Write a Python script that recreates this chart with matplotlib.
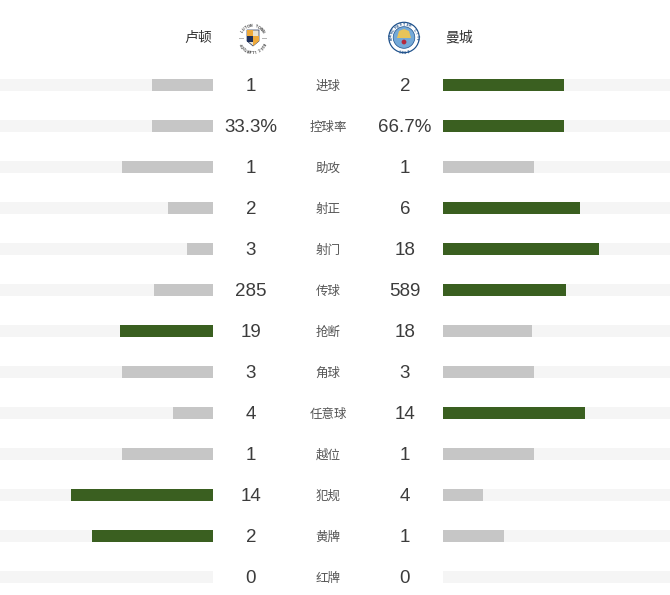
import numpy as np
import matplotlib.pyplot as plt
from matplotlib.patches import Circle, Polygon, Rectangle

plt.rcParams['font.family'] = ['Liberation Sans', 'Noto Sans CJK SC', 'DejaVu Sans']

W, H = 670, 595

stats = ['进球', '控球率', '助攻', '射正', '射门', '传球', '抢断', '角球', '任意球', '越位', '犯规', '黄牌', '红牌']
home_vals = [1, 33.3, 1, 2, 3, 285, 19, 3, 4, 1, 14, 2, 0]
away_vals = [2, 66.7, 1, 6, 18, 589, 18, 3, 14, 1, 4, 1, 0]
home_labels = ['1', '33.3%', '1', '2', '3', '285', '19', '3', '4', '1', '14', '2', '0']
away_labels = ['2', '66.7%', '1', '6', '18', '589', '18', '3', '14', '1', '4', '1', '0']

GREEN = '#3a5f20'
GREY = '#c6c6c6'
TRACK = '#f5f5f5'
FULL = 182  # pixels of a 100% bar


def arc_text(ax, s, cx, cy, r, mid, spread, size, color, bottom=False):
    # one small text per letter, turned along the ring
    angs = np.linspace(mid - spread/2, mid + spread/2, len(s))
    if not bottom:
        angs = angs[::-1]
    for ch, a in zip(s, angs):
        px = cx + r*np.cos(np.radians(a))
        py = cy - r*np.sin(np.radians(a))
        rot = a + 90 if bottom else a - 90
        ax.text(px, py, ch, ha='center', va='center', rotation=rot + 180 if bottom else rot,
                fontsize=size, color=color, fontweight='bold')


fig = plt.figure(figsize=(W/100, H/100), dpi=100)

# pixel axes for text and crests
ax = fig.add_axes([0, 0, 1, 1])
ax.set_xlim(0, W)
ax.set_ylim(H, 0)
ax.axis('off')

y0, step = 85, 41
row_lim = ((H-y0)/step, -y0/step)

ax_l = fig.add_axes([0, 0, 213/W, 1])
ax_l.set_xlim(213/FULL, 0)
ax_l.set_ylim(*row_lim)
ax_l.axis('off')
ax_r = fig.add_axes([443/W, 0, (W-443)/W, 1])
ax_r.set_xlim(0, (W-443)/FULL)
ax_r.set_ylim(*row_lim)
ax_r.axis('off')

rows = np.arange(len(stats))
home = np.array(home_vals, dtype=float)
away = np.array(away_vals, dtype=float)
tot = home + away
share_h = np.divide(home, tot, out=np.zeros_like(tot), where=tot > 0)
share_a = np.divide(away, tot, out=np.zeros_like(tot), where=tot > 0)

bar_h = 12.5/step
ax_l.barh(rows, [2]*len(rows), height=bar_h, color=TRACK)
ax_r.barh(rows, [2]*len(rows), height=bar_h, color=TRACK)
ax_l.barh(rows, share_h, height=bar_h,
          color=[GREEN if a > b else GREY for a, b in zip(home, away)])
ax_r.barh(rows, share_a, height=bar_h,
          color=[GREEN if b > a else GREY for a, b in zip(home, away)])

for i in rows:
    y = y0 + i*step + 1.5
    ax.text(251, y, home_labels[i], ha='center', va='center', fontsize=13.5, color='#3c3c3c')
    ax.text(405, y, away_labels[i], ha='center', va='center', fontsize=13.5, color='#3c3c3c')
    ax.text(328, y, stats[i], ha='center', va='center', fontsize=9, color='#555555')

ax.text(212, 38, '卢顿', ha='right', va='center', fontsize=10, color='#333333', fontweight='medium')
ax.text(445, 38, '曼城', ha='left', va='center', fontsize=10, color='#333333', fontweight='medium')

# Luton crest
cx, cy = 252.5, 38
ax.add_patch(Polygon([(247, 30), (259, 30), (259, 41), (253, 46), (247, 41)], fc='#e8e2d0', ec='#1d2f5a', lw=0.5))
ax.add_patch(Rectangle((247, 30), 6, 6, fc='#eea93a', ec='none'))
ax.add_patch(Rectangle((247, 36), 6, 6, fc='#1d2f5a', ec='none'))
ax.add_patch(Polygon([(253, 36), (259, 36), (259, 41), (253, 46)], fc='#eea93a', ec='none'))
ax.add_patch(Rectangle((238.5, 37.5), 5, 1, fc='#b5b5b5', ec='none'))
ax.add_patch(Rectangle((261.5, 37.5), 5, 1, fc='#b5b5b5', ec='none'))
arc_text(ax, 'LUTON TOWN', cx, cy, 12, 90, 110, 2.6, '#333333')
arc_text(ax, 'FOOTBALL CLUB', cx, cy, 12, 270, 120, 2.4, '#333333', bottom=True)

# City crest
cx, cy = 404, 37.5
ax.add_patch(Circle((cx, cy), 15.8, fc='#1c4f8a', ec='none'))
ax.add_patch(Circle((cx, cy), 14.6, fc='white', ec='none'))
ax.add_patch(Circle((cx, cy), 10.8, fc='#74a9d8', ec='#1c4f8a', lw=0.5))
ax.add_patch(Polygon([(397, 38), (399, 31), (404, 29), (409, 31), (411, 38)], fc='#e8c45a', ec='none'))
ax.add_patch(Circle((cx, 42), 2.4, fc='#b5283c', ec='none'))
arc_text(ax, 'MANCHESTER CITY', cx, cy, 12.8, 90, 190, 2.6, '#1c4f8a')
arc_text(ax, '1894', cx, cy, 12.8, 270, 35, 2.6, '#1c4f8a', bottom=True)

fig.savefig('out.png', dpi=100)
